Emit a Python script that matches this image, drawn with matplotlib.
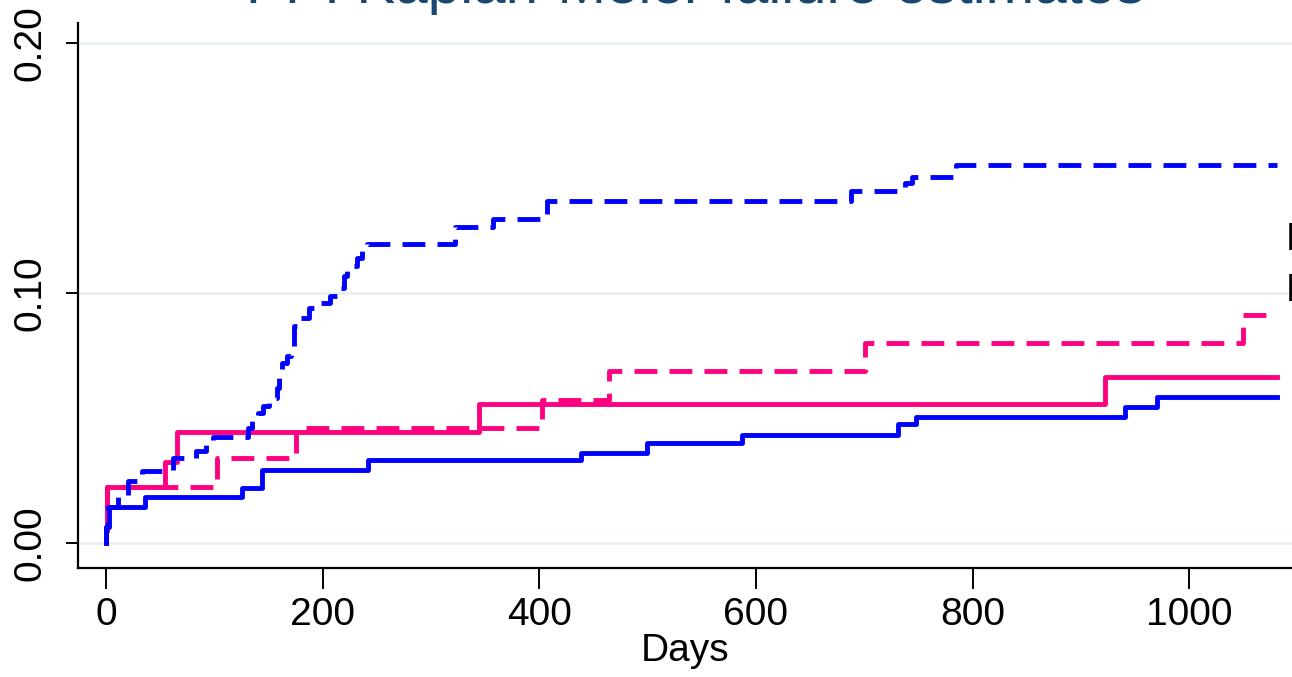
import matplotlib
matplotlib.use("Agg")
import matplotlib.pyplot as plt

plt.rcParams['font.family'] = ['Liberation Sans', 'DejaVu Sans']

# Datos (días, fallo acumulado)
t_azul = [0, 0, 3, 36, 125, 144, 242, 438, 499, 587, 731, 748, 941, 970, 1081]
f_azul = [0, 0.0065, 0.0145, 0.0185, 0.022, 0.0292, 0.0332, 0.0361, 0.0399,
          0.0432, 0.0475, 0.0505, 0.0545, 0.0585, 0.0585]

t_azul_disc = [0, 0, 2, 11, 20, 33, 62, 83, 92, 99,
               131, 135, 140, 145, 150, 158, 160, 162, 167, 171,
               173, 176, 187, 196, 207, 214, 220, 222, 232, 236,
               241, 322, 357, 407, 688, 738, 744, 785, 1081]
f_azul_disc = [0, 0.0065, 0.0145, 0.0185, 0.025, 0.029, 0.034, 0.037, 0.040, 0.0423,
               0.046, 0.049, 0.052, 0.055, 0.058, 0.062, 0.068, 0.072, 0.075, 0.079,
               0.087, 0.090, 0.094, 0.096, 0.099, 0.102, 0.107, 0.111, 0.114, 0.118,
               0.1196, 0.1265, 0.1296, 0.1368, 0.1408, 0.1439, 0.1465, 0.1512, 0.1512]

t_rosa = [0, 0, 1, 54, 65, 344, 922, 1081]
f_rosa = [0, 0.005, 0.0225, 0.0325, 0.0443, 0.0555, 0.0665, 0.0665]

t_rosa_disc = [0, 0, 1, 102, 175, 402, 464, 701, 1050, 1081]
f_rosa_disc = [0, 0.005, 0.0225, 0.0339, 0.0461, 0.0572, 0.0687, 0.0799, 0.0912, 0.0912]

xticks = [0, 200, 400, 600, 800, 1000]
yticks = [0.0, 0.1, 0.2]
ytick_labels = ['0.00', '0.10', '0.20']

azul = '#0000ff'
rosa = '#ff0080'
grosor = 3.5
guion = (0, (4.7, 2.5))

fig = plt.figure(figsize=(12.92, 6.77), dpi=100)
ax = fig.add_axes([0.0604, 0.161, 0.9396, 0.805])

for y in yticks:
    ax.axhline(y, color='#e8eff1', lw=1.8, zorder=0)

ax.step(t_rosa, f_rosa, where='post', color=rosa, lw=grosor)
ax.step(t_rosa_disc, f_rosa_disc, where='post', color=rosa, lw=grosor, linestyle=guion)
ax.step(t_azul, f_azul, where='post', color=azul, lw=grosor)
ax.step(t_azul_disc, f_azul_disc, where='post', color=azul, lw=grosor, linestyle=guion)

ax.set_xlim(-26, 1095)
ax.set_ylim(-0.01, 0.208)
ax.set_xticks(xticks)
ax.set_yticks(yticks)
ax.set_yticklabels(ytick_labels)
ax.tick_params(axis='x', labelsize=28, length=15, width=1.4, pad=6)
ax.tick_params(axis='y', labelsize=28, length=9, width=1.4, pad=12, rotation=90)
for lab in ax.get_yticklabels():
    lab.set_va('center')
ax.set_xlabel('Days', fontsize=28, labelpad=0)

for s in ['top', 'right']:
    ax.spines[s].set_visible(False)
for s in ['left', 'bottom']:
    ax.spines[s].set_linewidth(1.6)

fig.text(0.538, 0.996, 'PPI Kaplan-Meier failure estimates', fontsize=42,
         color='#1a476f', ha='center', va='baseline')
fig.text(0.9952, 0.630, 'PPI users', fontsize=28, ha='left', va='baseline')
fig.text(0.9952, 0.556, 'Non-users', fontsize=28, ha='left', va='baseline')

fig.savefig('out.png', dpi=100)
